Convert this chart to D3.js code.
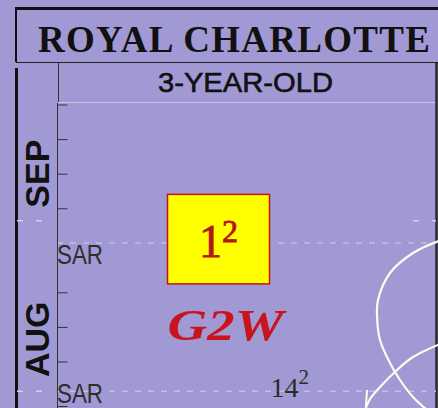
<!DOCTYPE html>
<meta charset="utf-8">
<style>
body { margin: 0; background: #a199d4; }
svg { display: block; }
.serif { font-family: "Liberation Serif", "Times New Roman", serif; }
.sans { font-family: "Liberation Sans", Arial, sans-serif; }
</style>
<body>
<svg width="438" height="408"></svg>
<script src="https://d3js.org/d3.v7.min.js"></script>
<script>

// chart values
var title = "ROYAL CHARLOTTE",
    subtitle = "3-YEAR-OLD";

var months = ["SEP", "AUG"];
var monthMid = [new Date(Date.UTC(2015, 8, 8)), new Date(Date.UTC(2015, 7, 5, 12))];
var monthBreak = new Date(Date.UTC(2015, 7, 29, 12));

var tickDates = [
  new Date(Date.UTC(2015, 8, 22)), new Date(Date.UTC(2015, 8, 15)),
  new Date(Date.UTC(2015, 8, 8)), new Date(Date.UTC(2015, 8, 1)),
  new Date(Date.UTC(2015, 7, 15)), new Date(Date.UTC(2015, 7, 8)),
  new Date(Date.UTC(2015, 7, 1)), new Date(Date.UTC(2015, 6, 23))
];

var raceDates = [new Date(Date.UTC(2015, 7, 25)), new Date(Date.UTC(2015, 6, 26))];
var raceTracks = ["SAR", "SAR"];
var raceFinish = ["1", "14"];
var raceMargin = ["2", "2"];
var raceFigure = [8.5, 12.25];
var raceNote = ["G2W", ""];

var svg = d3.select("svg"),
    width = +svg.attr("width"),
    height = +svg.attr("height");

var y = d3.scaleUtc()
    .domain([new Date(Date.UTC(2015, 8, 22)), new Date(Date.UTC(2015, 7, 1))])
    .range([104.5, 361.5]);

var x = d3.scaleLinear().domain([0, 20]).range([57, 437]);

var axisX = 57, plotTop = 103;

svg.append("rect").attr("width", width).attr("height", height).attr("fill", "#a199d4");

// header frame
svg.append("line").attr("x1", 15).attr("x2", width).attr("y1", 8.5).attr("y2", 8.5)
    .attr("stroke", "#111").attr("stroke-width", 3);
svg.append("line").attr("x1", 16).attr("x2", 16).attr("y1", 7).attr("y2", 62)
    .attr("stroke", "#111").attr("stroke-width", 2);
svg.append("line").attr("x1", 16).attr("x2", width).attr("y1", 62.5).attr("y2", 62.5)
    .attr("stroke", "#222").attr("stroke-width", 1);
svg.append("line").attr("x1", 16.5).attr("x2", 16.5).attr("y1", 68).attr("y2", height)
    .attr("stroke", "#111").attr("stroke-width", 3);
svg.append("line").attr("x1", 58.5).attr("x2", 58.5).attr("y1", 63).attr("y2", plotTop)
    .attr("stroke", "#333").attr("stroke-width", 1);
svg.append("line").attr("x1", 58).attr("x2", 436).attr("y1", 102.5).attr("y2", 102.5)
    .attr("stroke", "#c9c5de").attr("stroke-width", 1);
svg.append("line").attr("x1", 436.5).attr("x2", 436.5).attr("y1", 63).attr("y2", height)
    .attr("stroke", "#2a2a2a").attr("stroke-width", 2.5);

svg.append("text").attr("class", "serif")
    .attr("x", 38).attr("y", 52)
    .attr("font-size", 37).attr("font-weight", "bold")
    .attr("textLength", 392).attr("fill", "#111")
    .text(title);

svg.append("text").attr("class", "sans")
    .attr("x", 158).attr("y", 92)
    .attr("font-size", 27)
    .attr("textLength", 175).attr("lengthAdjust", "spacingAndGlyphs")
    .attr("fill", "#111").attr("stroke", "#111").attr("stroke-width", 0.6)
    .text(subtitle);

// month separators (dotted) and race lines (dashed)
[[17, 46], [413, 436]].forEach(function(s) {
  svg.append("line").attr("x1", s[0]).attr("x2", s[1])
      .attr("y1", y(monthBreak)).attr("y2", y(monthBreak))
      .attr("stroke", "#d2cee8").attr("stroke-width", 1.5).attr("stroke-dasharray", "6,13");
});
svg.append("line").attr("x1", 17).attr("x2", 46)
    .attr("y1", y(raceDates[1])).attr("y2", y(raceDates[1]))
    .attr("stroke", "#d2cee8").attr("stroke-width", 1.5).attr("stroke-dasharray", "6,13");

svg.selectAll(".raceline").data(raceDates).enter().append("line")
    .attr("class", "raceline")
    .attr("x1", axisX).attr("x2", 436)
    .attr("y1", function(d) { return y(d); }).attr("y2", function(d) { return y(d); })
    .attr("stroke", "#c3bfdc").attr("stroke-width", 1.5).attr("stroke-dasharray", "6,7");

// axis
svg.append("line").attr("x1", axisX + 0.5).attr("x2", axisX + 0.5).attr("y1", plotTop).attr("y2", height)
    .attr("stroke", "#333").attr("stroke-width", 1);
var axis = svg.append("g").attr("transform", "translate(" + (axisX + 0.5) + ",0)")
    .call(d3.axisRight(y).tickValues(tickDates).tickSize(10).tickSizeOuter(0).tickFormat(""));
axis.select(".domain").remove();
axis.selectAll(".tick line").attr("stroke", "#333");

svg.selectAll(".month").data(months).enter().append("text")
    .attr("class", "sans month")
    .attr("transform", function(d, i) { return "translate(49," + y(monthMid[i]) + ") rotate(-90)"; })
    .attr("text-anchor", "middle")
    .attr("font-size", 34).attr("font-weight", "bold").attr("fill", "#111")
    .text(function(d) { return d; });

// track labels
var trackDy = [21, 12];
svg.selectAll(".track").data(raceTracks).enter().append("text")
    .attr("class", "sans track")
    .attr("x", axisX).attr("y", function(d, i) { return y(raceDates[i]) + trackDy[i]; })
    .attr("font-size", 27).attr("fill", "#2d2d2d")
    .attr("textLength", 46).attr("lengthAdjust", "spacingAndGlyphs")
    .text(function(d) { return d; });

// winning race box
svg.append("rect")
    .attr("x", x(raceFigure[0]) - 51).attr("y", y(raceDates[0]) - 48.5)
    .attr("width", 102).attr("height", 89.5)
    .attr("fill", "#ffff00").attr("stroke", "#d01010").attr("stroke-width", 1.5);

var fin = svg.selectAll(".finish").data(raceFinish).enter().append("text")
    .attr("class", "serif finish")
    .attr("x", function(d, i) { return x(raceFigure[i]); })
    .attr("y", function(d, i) { return y(raceDates[i]) + (i === 0 ? 14.5 : 6); })
    .attr("text-anchor", "middle")
    .attr("fill", function(d, i) { return i === 0 ? "#b3171c" : "#2b2b2b"; })
    .attr("stroke", function(d, i) { return i === 0 ? "#b3171c" : "none"; })
    .attr("stroke-width", 0.9);
fin.append("tspan")
    .attr("font-size", function(d, i) { return i === 0 ? 46 : 28; })
    .text(function(d) { return d; });
fin.append("tspan")
    .attr("font-size", function(d, i) { return i === 0 ? 32 : 21; })
    .attr("dy", function(d, i) { return i === 0 ? -15 : -13; })
    .text(function(d, i) { return raceMargin[i]; });

svg.append("text").attr("class", "serif")
    .attr("x", x(raceFigure[0]) - 51).attr("y", y(raceDates[0]) + 97)
    .attr("font-size", 44).attr("font-weight", "bold").attr("font-style", "italic")
    .attr("textLength", 116).attr("lengthAdjust", "spacingAndGlyphs")
    .attr("fill", "#c8141e")
    .text(raceNote[0]);

// white trip arrows
var curveA = [[440, 240.5], [413, 253], [390, 273], [378, 300], [377, 315], [380, 340], [390, 363], [400, 380], [413, 397], [427, 410]],
    curveB = [[440, 344], [413, 357], [397, 370], [380, 387], [370, 399], [365, 410]],
    wing = [[367, 390], [366, 406]];
var line = d3.line().curve(d3.curveCatmullRom);
[curveA, curveB].forEach(function(c) {
  svg.append("path").attr("d", line(c)).attr("fill", "none")
      .attr("stroke", "#fffbf0").attr("stroke-width", 2.2);
});
svg.append("path").attr("d", d3.line()(wing)).attr("fill", "none")
    .attr("stroke", "#fffbf0").attr("stroke-width", 2);

</script>
</body>
